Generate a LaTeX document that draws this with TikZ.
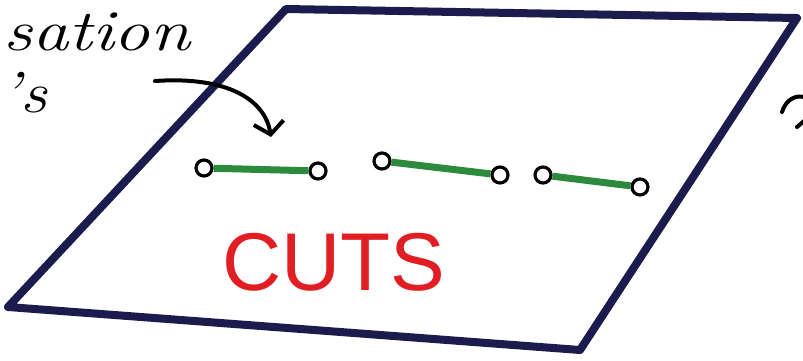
\documentclass[tikz,border=0pt]{standalone}
\usepackage{fontspec}
\newfontfamily\cutsfont{Liberation Sans}
\usepackage{xcolor}
\usetikzlibrary{
	arrows.meta,
	positioning,
	calc
}
\definecolor{sheetblue}{HTML}{1B1B4D}
\definecolor{cutgreen}{HTML}{2B8A3C}
\definecolor{cutred}{HTML}{E01E24}

\begin{document}
\begin{tikzpicture}[>=Stealth,x=1pt,y=-1pt,
		endpt/.style={circle,draw=black,line width=3.2pt,fill=white,minimum size=16pt,inner sep=0pt},
		seg/.style={cutgreen,line width=7pt},
		ink/.style={black,line width=4pt,line cap=round},
		scrawl/.style={anchor=base west,font=\itshape\fontsize{58}{58}\selectfont,inner sep=0pt}]
			
			\useasboundingbox (0,0) rectangle (803,360);
			
			% the sheet
			\coordinate (tl) at (286,9);
			\coordinate (tr) at (797,18);
			\coordinate (br) at (580,350);
			\coordinate (bl) at (8,307);
			\draw[sheetblue,line width=8pt,line join=round] (tl)--(tr)--(br)--(bl)--cycle;
			
			% cut segments
			\node[endpt] (a1) at (204,168) {};
			\node[endpt] (a2) at (318,171) {};
			\node[endpt] (b1) at (382,161) {};
			\node[endpt] (b2) at (500,175) {};
			\node[endpt] (c1) at (543,175) {};
			\node[endpt] (c2) at (640,187) {};
			
			\draw[seg] (a1)--(a2);
			\draw[seg] (b1)--(b2);
			\draw[seg] (c1)--(c2);
			
			\node[cutred,font=\cutsfont\fontsize{82}{82}\selectfont] (cuts) at (334,262) {CUTS};
			
			% cropped handwriting
			\node[scrawl] (sat) at (3,50) {\scalebox{1.25}[1]{sation}};
			\node[scrawl] (ls) at (0,112) {\scalebox{1.15}[1]{\textquoteright s}};
			
			\coordinate (arrS) at (155,81);
			\coordinate (arrE) at (271,137);
			\draw[ink,-{Straight Barb[length=12pt,width=30pt]}] (arrS) .. controls (228,76) and (265,100) .. (arrE);
			
			\coordinate (rt) at (782,112);
			\draw[ink] (rt) .. controls (786,99) and (796,95) .. (804,97);
			\draw[ink] (797,127)--(804,121);
			
		\end{tikzpicture}
\end{document}
